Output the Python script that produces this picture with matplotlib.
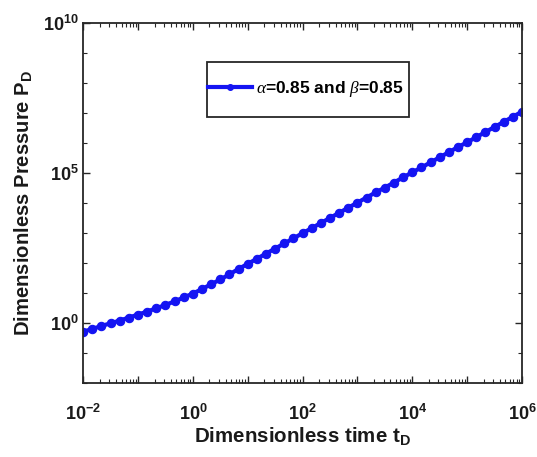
import numpy as np
import matplotlib
matplotlib.use("Agg")
import matplotlib.pyplot as plt
from matplotlib.ticker import FixedLocator, FuncFormatter, NullFormatter
from matplotlib.patches import Rectangle

plt.rcParams['font.family'] = ['Liberation Sans', 'DejaVu Sans']
plt.rcParams['mathtext.fontset'] = 'custom'
plt.rcParams['mathtext.rm'] = 'Liberation Sans:bold'
plt.rcParams['mathtext.bf'] = 'Liberation Sans:bold'
plt.rcParams['mathtext.it'] = 'Liberation Serif:italic'

# log10 of dimensionless time t_D (sample points)
log_tD = [-2.000, -1.833, -1.667, -1.500, -1.333, -1.167,
          -1.000, -0.833, -0.667, -0.500, -0.333, -0.167,
          0.000, 0.167, 0.333, 0.500, 0.667, 0.833,
          1.000, 1.167, 1.333, 1.500, 1.667, 1.833,
          2.000, 2.167, 2.333, 2.500, 2.667, 2.833,
          3.000, 3.167, 3.333, 3.500, 3.667, 3.833,
          4.000, 4.167, 4.333, 4.500, 4.667, 4.833,
          5.000, 5.167, 5.333, 5.500, 5.667, 5.833,
          6.000]
# log10 of dimensionless pressure P_D
log_PD = [-0.29, -0.20, -0.10, -0.01, 0.08, 0.18,
          0.28, 0.38, 0.49, 0.60, 0.72, 0.85,
          0.98, 1.13, 1.29, 1.45, 1.62, 1.80,
          1.97, 2.14, 2.31, 2.48, 2.65, 2.82,
          2.99, 3.16, 3.33, 3.50, 3.67, 3.84,
          4.01, 4.18, 4.35, 4.51, 4.68, 4.85,
          5.02, 5.18, 5.35, 5.52, 5.69, 5.86,
          6.02, 6.19, 6.36, 6.53, 6.70, 6.87,
          7.04]
series_label = r'$\alpha$=0.85 and $\beta$=0.85'

x_major = [1e-2, 1e0, 1e2, 1e4, 1e6]
y_major = [1e0, 1e5, 1e10]

tD = [10.0 ** v for v in log_tD]
PD = [10.0 ** v for v in log_PD]

fig = plt.figure(figsize=(5.37, 4.57), dpi=100)
ax = fig.add_axes([0.155, 0.162, 0.817, 0.788])

blue = (0.08, 0.08, 0.95)
ax.plot(tD, PD, color=blue, lw=3.0, marker='o', markersize=6,
        markeredgewidth=0.8, markeredgecolor=blue, markerfacecolor=blue,
        label=series_label)

ax.set_xscale('log')
ax.set_yscale('log')
ax.set_xlim(1e-2, 1e6)
ax.set_ylim(1e-2, 1e10)

def fmt(v, pos):
    e = int(round(np.log10(v)))
    return r'$\mathbf{10^{%d}}$' % e

ax.xaxis.set_major_locator(FixedLocator([10.0 ** k for k in range(-2, 7)]))
ax.xaxis.set_major_formatter(FuncFormatter(
    lambda v, p: fmt(v, p) if int(round(np.log10(v))) % 2 == 0 else ''))
ax.xaxis.set_minor_locator(FixedLocator(
    [m * 10.0 ** k for k in range(-2, 6) for m in range(2, 10)]))
ax.xaxis.set_minor_formatter(NullFormatter())

ax.yaxis.set_major_locator(FixedLocator(y_major))
ax.yaxis.set_major_formatter(FuncFormatter(fmt))
ax.yaxis.set_minor_locator(FixedLocator(
    [10.0 ** k for k in range(-2, 11) if k % 5 != 0]))
ax.yaxis.set_minor_formatter(NullFormatter())

spine_c = '#262626'
for s in ax.spines.values():
    s.set_color(spine_c)
    s.set_linewidth(1.3)
ax.tick_params(which='both', direction='in', top=True, right=True,
               colors=spine_c, labelcolor='#1a1a1a', labelsize=13)
ax.tick_params(axis='x', which='major', pad=15)
ax.tick_params(axis='y', which='major', pad=3.5)
ax.tick_params(which='major', length=5, width=1.0)
ax.tick_params(which='minor', length=3, width=0.8)

ax.set_xlabel(r'Dimensionless time t$_\mathbf{D}$', fontsize=14.8,
              fontweight='bold', color='#1a1a1a', labelpad=1)
ax.set_ylabel(r'Dimensionless Pressure P$_\mathbf{D}$', fontsize=14.6,
              fontweight='bold', color='#1a1a1a', labelpad=6)

# legend box
ax.add_patch(Rectangle((0.282, 0.739), 0.461, 0.153, transform=ax.transAxes,
                       facecolor='white', edgecolor=spine_c, lw=1.3, zorder=5))
leg = ax.legend(loc='center left', bbox_to_anchor=(0.285, 0.815),
                frameon=False, prop={'weight': 'bold', 'size': 12.5},
                handlelength=2.5, handletextpad=0.25, borderpad=0,
                borderaxespad=0, markerscale=0.7)
leg.set_zorder(6)

fig.savefig('out.png', dpi=100, facecolor='white')
